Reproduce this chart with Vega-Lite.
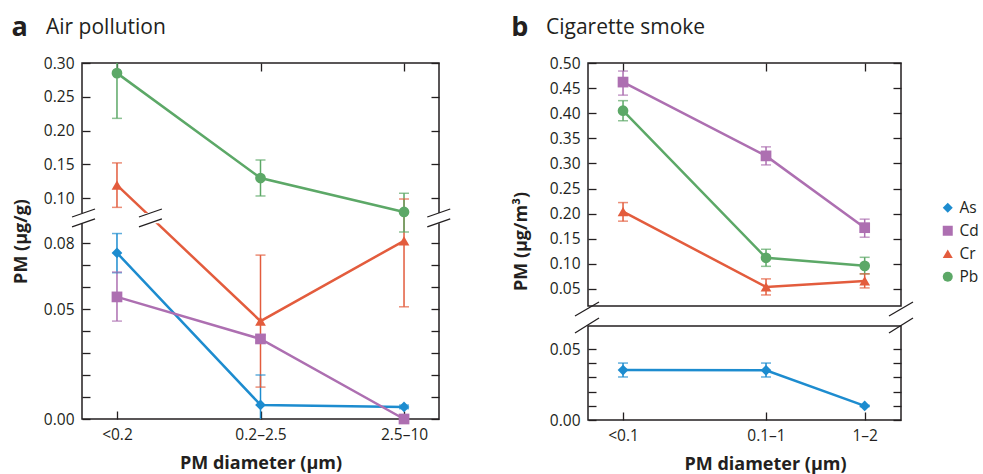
{
  "$schema": "https://vega.github.io/schema/vega-lite/v6.json",
  "background": "white",
  "padding": {"left": 11, "top": 14, "right": 0, "bottom": 0},
  "config": {
    "font": "Open Sans",
    "view": {"stroke": "#231f20", "strokeWidth": 1.5},
    "axis": {"domain": false, "grid": false, "tickColor": "#231f20", "tickWidth": 1.3, "tickSize": -8, "labelFont": "Open Sans", "labelFontSize": 15.5, "labelColor": "#231f20", "labelPadding": 16, "titleFont": "Open Sans", "titleFontSize": 18, "titleFontWeight": "bold", "titleColor": "#231f20"}
  },
  "datasets": {
    "air": [
      {"el": "As", "size": "<0.2", "xi": 0, "v": 0.0755, "lo": 0.0665, "hi": 0.0843},
      {"el": "As", "size": "0.2–2.5", "xi": 1, "v": 0.0064, "lo": -0.0015, "hi": 0.02},
      {"el": "As", "size": "2.5–10", "xi": 2, "v": 0.0055, "lo": 0.0047, "hi": 0.0063},
      {"el": "Cd", "size": "<0.2", "xi": 0, "v": 0.0555, "lo": 0.0445, "hi": 0.0668},
      {"el": "Cd", "size": "0.2–2.5", "xi": 1, "v": 0.0364, "lo": 0.0348, "hi": 0.038},
      {"el": "Cd", "size": "2.5–10", "xi": 2, "v": 0.0, "lo": 0.0, "hi": 0.0},
      {"el": "Cr", "size": "<0.2", "xi": 0, "v": 0.119, "lo": 0.0914, "hi": 0.152},
      {"el": "Cr", "size": "0.2–2.5", "xi": 1, "v": 0.0445, "lo": 0.0145, "hi": 0.0745},
      {"el": "Cr", "size": "2.5–10", "xi": 2, "v": 0.081, "lo": 0.051, "hi": 0.0985},
      {"el": "Pb", "size": "<0.2", "xi": 0, "v": 0.285, "lo": 0.218, "hi": 0.303},
      {"el": "Pb", "size": "0.2–2.5", "xi": 1, "v": 0.1296, "lo": 0.103, "hi": 0.1563},
      {"el": "Pb", "size": "2.5–10", "xi": 2, "v": 0.0907, "lo": 0.085, "hi": 0.107}
    ],
    "smoke": [
      {"el": "As", "size": "<0.1", "xi": 0, "v": 0.0352, "lo": 0.0303, "hi": 0.0401},
      {"el": "As", "size": "0.1–1", "xi": 1, "v": 0.035, "lo": 0.0303, "hi": 0.0401},
      {"el": "As", "size": "1–2", "xi": 1.69, "v": 0.0099, "lo": 0.0094, "hi": 0.0104},
      {"el": "Cd", "size": "<0.1", "xi": 0, "v": 0.462, "lo": 0.436, "hi": 0.484},
      {"el": "Cd", "size": "0.1–1", "xi": 1, "v": 0.315, "lo": 0.297, "hi": 0.333},
      {"el": "Cd", "size": "1–2", "xi": 1.69, "v": 0.172, "lo": 0.153, "hi": 0.189},
      {"el": "Cr", "size": "<0.1", "xi": 0, "v": 0.204, "lo": 0.185, "hi": 0.222},
      {"el": "Cr", "size": "0.1–1", "xi": 1, "v": 0.054, "lo": 0.038, "hi": 0.07},
      {"el": "Cr", "size": "1–2", "xi": 1.69, "v": 0.066, "lo": 0.052, "hi": 0.08},
      {"el": "Pb", "size": "<0.1", "xi": 0, "v": 0.405, "lo": 0.385, "hi": 0.425},
      {"el": "Pb", "size": "0.1–1", "xi": 1, "v": 0.112, "lo": 0.095, "hi": 0.129},
      {"el": "Pb", "size": "1–2", "xi": 1.69, "v": 0.096, "lo": 0.08, "hi": 0.113}
    ]
  },
  "resolve": {"scale": {"color": "shared", "shape": "shared"}, "legend": {"color": "independent", "shape": "independent"}},
  "spacing": 58,
  "hconcat": [
    {
      "title": {"text": "a", "anchor": "start", "frame": "bounds", "fontSize": 27, "fontWeight": "bold", "color": "#231f20", "baseline": "alphabetic", "offset": 0, "dy": 47},
      "resolve": {"scale": {"color": "shared", "shape": "shared"}, "legend": {"color": "independent", "shape": "independent"}},
      "vconcat": [
        {
          "title": {"text": "Air pollution", "anchor": "start", "frame": "group", "dx": -36, "offset": 1, "fontSize": 21, "fontWeight": "normal", "color": "#231f20", "baseline": "alphabetic"},
          "width": 357,
          "height": 356,
          "data": {"name": "air"},
          "resolve": {"axis": {"x": "independent", "y": "independent"}},
          "layer": [
            {
              "mark": {"type": "line", "strokeWidth": 2.5},
              "encoding": {
                "x": {"field": "xi", "type": "quantitative", "scale": {"domain": [-0.2437, 2.2437], "nice": false, "zero": false}, "axis": {"orient": "bottom", "values": [0, 1, 2], "labelExpr": "datum.value == 0 ? '<0.2' : datum.value == 1 ? '0.2–2.5' : '2.5–10'", "title": "PM diameter (μm)", "titleX": 178.5, "titleY": 35}},
                "y": {"field": "v", "type": "quantitative", "scale": {"domain": [0, 0.089, 0.092, 0.3], "range": [356, 160.2, 140.4, 0], "nice": false, "zero": false}, "axis": {"orient": "left", "values": [0, 0.01, 0.02, 0.03, 0.04, 0.05, 0.06, 0.07, 0.08, 0.1, 0.15, 0.2, 0.25, 0.3], "format": ".2f", "labelExpr": "indexof(['0.00','0.05','0.08','0.10','0.15','0.20','0.25','0.30'], datum.label) >= 0 ? datum.label : ''", "title": "PM (μg/g)", "titlePadding": 13}},
                "color": {"field": "el", "type": "nominal", "scale": {"domain": ["As", "Cd", "Cr", "Pb"], "range": ["#1d8ccf", "#ad6fb1", "#e35c3d", "#5ca867"]}, "legend": null}
              }
            },
            {
              "data": {"values": [{}]},
              "mark": {"type": "rect", "color": "white", "clip": false},
              "encoding": {
                "x": {"datum": -0.36, "type": "quantitative", "scale": {"domain": [-0.2437, 2.2437], "nice": false, "zero": false}, "axis": null},
                "x2": {"datum": 2.33},
                "y": {"datum": 0.089, "type": "quantitative", "scale": {"domain": [0, 0.089, 0.092, 0.3], "range": [356, 160.2, 140.4, 0], "nice": false, "zero": false}, "axis": null},
                "y2": {"datum": 0.09055}
              }
            },
            {
              "mark": {"type": "rule", "strokeWidth": 1.5, "clip": true},
              "encoding": {
                "x": {"field": "xi", "type": "quantitative", "scale": {"domain": [-0.2437, 2.2437], "nice": false, "zero": false}, "axis": {"orient": "top", "values": [0, 1, 2], "labels": false, "title": null}},
                "y": {"field": "lo", "type": "quantitative", "scale": {"domain": [0, 0.089, 0.092, 0.3], "range": [356, 160.2, 140.4, 0], "nice": false, "zero": false}, "axis": {"orient": "right", "values": [0, 0.01, 0.02, 0.03, 0.04, 0.05, 0.06, 0.07, 0.08, 0.1, 0.15, 0.2, 0.25, 0.3], "labels": false, "title": null}},
                "y2": {"field": "hi"},
                "color": {"field": "el", "type": "nominal", "scale": {"domain": ["As", "Cd", "Cr", "Pb"], "range": ["#1d8ccf", "#ad6fb1", "#e35c3d", "#5ca867"]}, "legend": null}
              }
            },
            {
              "mark": {"type": "tick", "orient": "horizontal", "size": 10, "thickness": 1.5, "clip": true},
              "encoding": {
                "x": {"field": "xi", "type": "quantitative", "scale": {"domain": [-0.2437, 2.2437], "nice": false, "zero": false}, "axis": null},
                "y": {"field": "lo", "type": "quantitative", "scale": {"domain": [0, 0.089, 0.092, 0.3], "range": [356, 160.2, 140.4, 0], "nice": false, "zero": false}, "axis": null},
                "color": {"field": "el", "type": "nominal", "scale": {"domain": ["As", "Cd", "Cr", "Pb"], "range": ["#1d8ccf", "#ad6fb1", "#e35c3d", "#5ca867"]}, "legend": null}
              }
            },
            {
              "mark": {"type": "tick", "orient": "horizontal", "size": 10, "thickness": 1.5, "clip": true},
              "encoding": {
                "x": {"field": "xi", "type": "quantitative", "scale": {"domain": [-0.2437, 2.2437], "nice": false, "zero": false}, "axis": null},
                "y": {"field": "hi", "type": "quantitative", "scale": {"domain": [0, 0.089, 0.092, 0.3], "range": [356, 160.2, 140.4, 0], "nice": false, "zero": false}, "axis": null},
                "color": {"field": "el", "type": "nominal", "scale": {"domain": ["As", "Cd", "Cr", "Pb"], "range": ["#1d8ccf", "#ad6fb1", "#e35c3d", "#5ca867"]}, "legend": null}
              }
            },
            {
              "mark": {"type": "point", "filled": true, "size": 115, "opacity": 1, "clip": false},
              "encoding": {
                "x": {"field": "xi", "type": "quantitative", "scale": {"domain": [-0.2437, 2.2437], "nice": false, "zero": false}, "axis": null},
                "y": {"field": "v", "type": "quantitative", "scale": {"domain": [0, 0.089, 0.092, 0.3], "range": [356, 160.2, 140.4, 0], "nice": false, "zero": false}, "axis": null},
                "color": {"field": "el", "type": "nominal", "scale": {"domain": ["As", "Cd", "Cr", "Pb"], "range": ["#1d8ccf", "#ad6fb1", "#e35c3d", "#5ca867"]}, "legend": null},
                "shape": {"field": "el", "type": "nominal", "scale": {"domain": ["As", "Cd", "Cr", "Pb"], "range": ["diamond", "square", "triangle-up", "circle"]}, "legend": null}
              }
            },
            {
              "data": {"values": [{}]},
              "mark": {"type": "rule", "color": "#231f20", "strokeWidth": 1.3, "clip": false},
              "encoding": {
                "x": {"datum": -0.313, "type": "quantitative", "scale": {"domain": [-0.2437, 2.2437], "nice": false, "zero": false}, "axis": null},
                "x2": {"datum": -0.153},
                "y": {"datum": 0.08994, "type": "quantitative", "scale": {"domain": [0, 0.089, 0.092, 0.3], "range": [356, 160.2, 140.4, 0], "nice": false, "zero": false}, "axis": null},
                "y2": {"datum": 0.09115}
              }
            },
            {
              "data": {"values": [{}]},
              "mark": {"type": "rule", "color": "#231f20", "strokeWidth": 1.3, "clip": false},
              "encoding": {
                "x": {"datum": -0.313, "type": "quantitative", "scale": {"domain": [-0.2437, 2.2437], "nice": false, "zero": false}, "axis": null},
                "x2": {"datum": -0.153},
                "y": {"datum": 0.0873, "type": "quantitative", "scale": {"domain": [0, 0.089, 0.092, 0.3], "range": [356, 160.2, 140.4, 0], "nice": false, "zero": false}, "axis": null},
                "y2": {"datum": 0.08964}
              }
            },
            {
              "data": {"values": [{}]},
              "mark": {"type": "rule", "color": "#231f20", "strokeWidth": 1.3, "clip": false},
              "encoding": {
                "x": {"datum": 0.153, "type": "quantitative", "scale": {"domain": [-0.2437, 2.2437], "nice": false, "zero": false}, "axis": null},
                "x2": {"datum": 0.313},
                "y": {"datum": 0.08994, "type": "quantitative", "scale": {"domain": [0, 0.089, 0.092, 0.3], "range": [356, 160.2, 140.4, 0], "nice": false, "zero": false}, "axis": null},
                "y2": {"datum": 0.09115}
              }
            },
            {
              "data": {"values": [{}]},
              "mark": {"type": "rule", "color": "#231f20", "strokeWidth": 1.3, "clip": false},
              "encoding": {
                "x": {"datum": 0.153, "type": "quantitative", "scale": {"domain": [-0.2437, 2.2437], "nice": false, "zero": false}, "axis": null},
                "x2": {"datum": 0.313},
                "y": {"datum": 0.0873, "type": "quantitative", "scale": {"domain": [0, 0.089, 0.092, 0.3], "range": [356, 160.2, 140.4, 0], "nice": false, "zero": false}, "axis": null},
                "y2": {"datum": 0.08964}
              }
            },
            {
              "data": {"values": [{}]},
              "mark": {"type": "rule", "color": "#231f20", "strokeWidth": 1.3, "clip": false},
              "encoding": {
                "x": {"datum": 2.162, "type": "quantitative", "scale": {"domain": [-0.2437, 2.2437], "nice": false, "zero": false}, "axis": null},
                "x2": {"datum": 2.322},
                "y": {"datum": 0.08994, "type": "quantitative", "scale": {"domain": [0, 0.089, 0.092, 0.3], "range": [356, 160.2, 140.4, 0], "nice": false, "zero": false}, "axis": null},
                "y2": {"datum": 0.09115}
              }
            },
            {
              "data": {"values": [{}]},
              "mark": {"type": "rule", "color": "#231f20", "strokeWidth": 1.3, "clip": false},
              "encoding": {
                "x": {"datum": 2.162, "type": "quantitative", "scale": {"domain": [-0.2437, 2.2437], "nice": false, "zero": false}, "axis": null},
                "x2": {"datum": 2.322},
                "y": {"datum": 0.0873, "type": "quantitative", "scale": {"domain": [0, 0.089, 0.092, 0.3], "range": [356, 160.2, 140.4, 0], "nice": false, "zero": false}, "axis": null},
                "y2": {"datum": 0.08964}
              }
            }
          ]
        }
      ]
    },
    {
      "title": {"text": "b", "anchor": "start", "frame": "bounds", "fontSize": 27, "fontWeight": "bold", "color": "#231f20", "baseline": "alphabetic", "offset": 0, "dy": 47},
      "resolve": {"scale": {"color": "shared", "shape": "shared"}, "legend": {"color": "independent", "shape": "independent"}},
      "bounds": "flush",
      "spacing": 20,
      "vconcat": [
        {
          "title": {"text": "Cigarette smoke", "anchor": "start", "frame": "group", "dx": -42, "offset": 1, "fontSize": 21, "fontWeight": "normal", "color": "#231f20", "baseline": "alphabetic"},
          "width": 313,
          "height": 243,
          "data": {"name": "smoke"},
          "transform": [{"filter": "datum.el != 'As'"}],
          "resolve": {"axis": {"x": "independent", "y": "independent"}},
          "layer": [
            {
              "mark": {"type": "line", "strokeWidth": 2.5},
              "encoding": {
                "x": {"field": "xi", "type": "quantitative", "scale": {"domain": [-0.245, 1.944], "nice": false, "zero": false}, "axis": {"orient": "top", "values": [0, 1, 1.69], "labels": false, "title": null}},
                "y": {"field": "v", "type": "quantitative", "scale": {"domain": [0.016, 0.5], "nice": false, "zero": false}, "axis": {"orient": "left", "values": [0.05, 0.1, 0.15, 0.2, 0.25, 0.3, 0.35, 0.4, 0.45, 0.5], "format": ".2f", "title": "PM (μg/m³)", "titleX": -58, "titleY": 178}},
                "color": {"field": "el", "type": "nominal", "scale": {"domain": ["As", "Cd", "Cr", "Pb"], "range": ["#1d8ccf", "#ad6fb1", "#e35c3d", "#5ca867"]}, "legend": null}
              }
            },
            {
              "mark": {"type": "rule", "strokeWidth": 1.5, "clip": true},
              "encoding": {
                "x": {"field": "xi", "type": "quantitative", "scale": {"domain": [-0.245, 1.944], "nice": false, "zero": false}, "axis": null},
                "y": {"field": "lo", "type": "quantitative", "scale": {"domain": [0.016, 0.5], "nice": false, "zero": false}, "axis": {"orient": "right", "values": [0.05, 0.1, 0.15, 0.2, 0.25, 0.3, 0.35, 0.4, 0.45, 0.5], "labels": false, "title": null}},
                "y2": {"field": "hi"},
                "color": {"field": "el", "type": "nominal", "scale": {"domain": ["As", "Cd", "Cr", "Pb"], "range": ["#1d8ccf", "#ad6fb1", "#e35c3d", "#5ca867"]}, "legend": null}
              }
            },
            {
              "mark": {"type": "tick", "orient": "horizontal", "size": 10, "thickness": 1.5, "clip": true},
              "encoding": {
                "x": {"field": "xi", "type": "quantitative", "scale": {"domain": [-0.245, 1.944], "nice": false, "zero": false}, "axis": null},
                "y": {"field": "lo", "type": "quantitative", "scale": {"domain": [0.016, 0.5], "nice": false, "zero": false}, "axis": null},
                "color": {"field": "el", "type": "nominal", "scale": {"domain": ["As", "Cd", "Cr", "Pb"], "range": ["#1d8ccf", "#ad6fb1", "#e35c3d", "#5ca867"]}, "legend": null}
              }
            },
            {
              "mark": {"type": "tick", "orient": "horizontal", "size": 10, "thickness": 1.5, "clip": true},
              "encoding": {
                "x": {"field": "xi", "type": "quantitative", "scale": {"domain": [-0.245, 1.944], "nice": false, "zero": false}, "axis": null},
                "y": {"field": "hi", "type": "quantitative", "scale": {"domain": [0.016, 0.5], "nice": false, "zero": false}, "axis": null},
                "color": {"field": "el", "type": "nominal", "scale": {"domain": ["As", "Cd", "Cr", "Pb"], "range": ["#1d8ccf", "#ad6fb1", "#e35c3d", "#5ca867"]}, "legend": null}
              }
            },
            {
              "mark": {"type": "point", "filled": true, "size": 115, "opacity": 1, "clip": false},
              "encoding": {
                "x": {"field": "xi", "type": "quantitative", "scale": {"domain": [-0.245, 1.944], "nice": false, "zero": false}, "axis": null},
                "y": {"field": "v", "type": "quantitative", "scale": {"domain": [0.016, 0.5], "nice": false, "zero": false}, "axis": null},
                "color": {"field": "el", "type": "nominal", "scale": {"domain": ["As", "Cd", "Cr", "Pb"], "range": ["#1d8ccf", "#ad6fb1", "#e35c3d", "#5ca867"]}, "legend": null},
                "shape": {"field": "el", "type": "nominal", "scale": {"domain": ["As", "Cd", "Cr", "Pb"], "range": ["diamond", "square", "triangle-up", "circle"]}, "legend": null}
              }
            },
            {
              "data": {"values": [{}]},
              "mark": {"type": "rule", "color": "#231f20", "strokeWidth": 1.3, "clip": false},
              "encoding": {
                "x": {"datum": -0.336, "type": "quantitative", "scale": {"domain": [-0.245, 1.944], "nice": false, "zero": false}, "axis": null},
                "x2": {"datum": -0.168},
                "y": {"datum": -0.004, "type": "quantitative", "scale": {"domain": [0.016, 0.5], "nice": false, "zero": false}, "axis": null},
                "y2": {"datum": 0.0239}
              }
            },
            {
              "data": {"values": [{}]},
              "mark": {"type": "rule", "color": "#231f20", "strokeWidth": 1.3, "clip": false},
              "encoding": {
                "x": {"datum": 1.86, "type": "quantitative", "scale": {"domain": [-0.245, 1.944], "nice": false, "zero": false}, "axis": null},
                "x2": {"datum": 2.028},
                "y": {"datum": -0.004, "type": "quantitative", "scale": {"domain": [0.016, 0.5], "nice": false, "zero": false}, "axis": null},
                "y2": {"datum": 0.0239}
              }
            }
          ]
        },
        {
          "width": 313,
          "height": 94,
          "data": {"name": "smoke"},
          "transform": [{"filter": "datum.el == 'As'"}],
          "resolve": {"axis": {"x": "independent", "y": "independent"}, "legend": {"color": "independent", "shape": "independent"}},
          "layer": [
            {
              "mark": {"type": "line", "strokeWidth": 2.5},
              "encoding": {
                "x": {"field": "xi", "type": "quantitative", "scale": {"domain": [-0.245, 1.944], "nice": false, "zero": false}, "axis": {"orient": "bottom", "values": [0, 1, 1.69], "labelExpr": "datum.value == 0 ? '<0.1' : datum.value == 1 ? '0.1–1' : '1–2'", "title": "PM diameter (μm)", "titleX": 177, "titleY": 35}},
                "y": {"field": "v", "type": "quantitative", "scale": {"domain": [0, 0.0662], "nice": false, "zero": false}, "axis": {"orient": "left", "values": [0, 0.01, 0.02, 0.03, 0.04, 0.05], "format": ".2f", "labelExpr": "datum.label == '0.00' || datum.label == '0.05' ? datum.label : ''", "title": null}},
                "color": {"field": "el", "type": "nominal", "scale": {"domain": ["As", "Cd", "Cr", "Pb"], "range": ["#1d8ccf", "#ad6fb1", "#e35c3d", "#5ca867"]}, "legend": null}
              }
            },
            {
              "mark": {"type": "rule", "strokeWidth": 1.5, "clip": true},
              "encoding": {
                "x": {"field": "xi", "type": "quantitative", "scale": {"domain": [-0.245, 1.944], "nice": false, "zero": false}, "axis": null},
                "y": {"field": "lo", "type": "quantitative", "scale": {"domain": [0, 0.0662], "nice": false, "zero": false}, "axis": {"orient": "right", "values": [0, 0.01, 0.02, 0.03, 0.04, 0.05], "labels": false, "title": null}},
                "y2": {"field": "hi"},
                "color": {"field": "el", "type": "nominal", "scale": {"domain": ["As", "Cd", "Cr", "Pb"], "range": ["#1d8ccf", "#ad6fb1", "#e35c3d", "#5ca867"]}, "legend": null}
              }
            },
            {
              "mark": {"type": "tick", "orient": "horizontal", "size": 10, "thickness": 1.5, "clip": true},
              "encoding": {
                "x": {"field": "xi", "type": "quantitative", "scale": {"domain": [-0.245, 1.944], "nice": false, "zero": false}, "axis": null},
                "y": {"field": "lo", "type": "quantitative", "scale": {"domain": [0, 0.0662], "nice": false, "zero": false}, "axis": null},
                "color": {"field": "el", "type": "nominal", "scale": {"domain": ["As", "Cd", "Cr", "Pb"], "range": ["#1d8ccf", "#ad6fb1", "#e35c3d", "#5ca867"]}, "legend": null}
              }
            },
            {
              "mark": {"type": "tick", "orient": "horizontal", "size": 10, "thickness": 1.5, "clip": true},
              "encoding": {
                "x": {"field": "xi", "type": "quantitative", "scale": {"domain": [-0.245, 1.944], "nice": false, "zero": false}, "axis": null},
                "y": {"field": "hi", "type": "quantitative", "scale": {"domain": [0, 0.0662], "nice": false, "zero": false}, "axis": null},
                "color": {"field": "el", "type": "nominal", "scale": {"domain": ["As", "Cd", "Cr", "Pb"], "range": ["#1d8ccf", "#ad6fb1", "#e35c3d", "#5ca867"]}, "legend": null}
              }
            },
            {
              "mark": {"type": "point", "filled": true, "size": 115, "opacity": 1, "clip": false},
              "encoding": {
                "x": {"field": "xi", "type": "quantitative", "scale": {"domain": [-0.245, 1.944], "nice": false, "zero": false}, "axis": null},
                "y": {"field": "v", "type": "quantitative", "scale": {"domain": [0, 0.0662], "nice": false, "zero": false}, "axis": null},
                "color": {"field": "el", "type": "nominal", "scale": {"domain": ["As", "Cd", "Cr", "Pb"], "range": ["#1d8ccf", "#ad6fb1", "#e35c3d", "#5ca867"]}, "legend": {"title": null, "orient": "none", "legendX": 352, "legendY": -126, "labelFontSize": 15.5, "labelFont": "Open Sans", "labelColor": "#231f20", "symbolSize": 100, "rowPadding": 6, "labelOffset": 4, "symbolStrokeWidth": 0}},
                "shape": {"field": "el", "type": "nominal", "scale": {"domain": ["As", "Cd", "Cr", "Pb"], "range": ["diamond", "square", "triangle-up", "circle"]}, "legend": {"title": null, "orient": "none", "legendX": 352, "legendY": -126, "labelFontSize": 15.5, "labelFont": "Open Sans", "labelColor": "#231f20", "symbolSize": 100, "rowPadding": 6, "labelOffset": 4, "symbolStrokeWidth": 0}}
              }
            },
            {
              "data": {"values": [{}]},
              "mark": {"type": "rule", "color": "#231f20", "strokeWidth": 1.3, "clip": false},
              "encoding": {
                "x": {"datum": -0.336, "type": "quantitative", "scale": {"domain": [-0.245, 1.944], "nice": false, "zero": false}, "axis": null},
                "x2": {"datum": -0.168},
                "y": {"datum": 0.0613, "type": "quantitative", "scale": {"domain": [0, 0.0662], "nice": false, "zero": false}, "axis": null},
                "y2": {"datum": 0.0718}
              }
            },
            {
              "data": {"values": [{}]},
              "mark": {"type": "rule", "color": "#231f20", "strokeWidth": 1.3, "clip": false},
              "encoding": {
                "x": {"datum": 1.86, "type": "quantitative", "scale": {"domain": [-0.245, 1.944], "nice": false, "zero": false}, "axis": null},
                "x2": {"datum": 2.028},
                "y": {"datum": 0.0613, "type": "quantitative", "scale": {"domain": [0, 0.0662], "nice": false, "zero": false}, "axis": null},
                "y2": {"datum": 0.0718}
              }
            }
          ]
        }
      ]
    }
  ]
}
